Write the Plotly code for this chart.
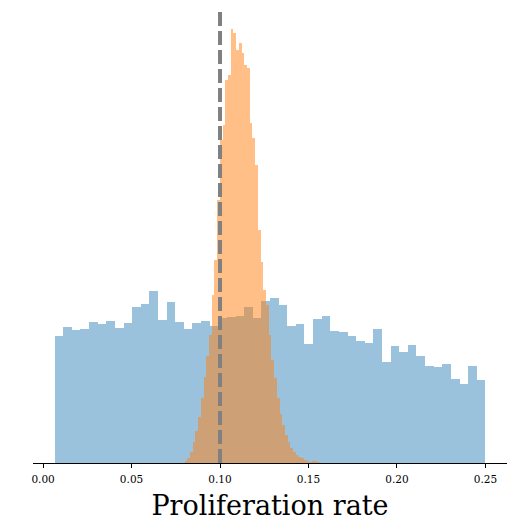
import plotly.graph_objects as go

# ---- data (heights in arbitrary units) ----
prior_start = 0.0065
prior_end = 0.25
prior_heights = [127.0, 135.7, 132.7, 134.0, 141.0, 139.4, 141.7, 134.7, 140.0, 155.7,
                 159.0, 172.0, 142.7, 160.7, 141.0, 133.7, 140.0, 141.7, 136.7, 144.7,
                 145.7, 146.7, 155.7, 144.7, 162.0, 164.7, 157.7, 136.7, 139.4, 118.7,
                 144.4, 146.7, 131.7, 130.7, 126.7, 121.7, 120.0, 134.0, 100.7, 117.4,
                 110.7, 118.0, 106.7, 96.7, 96.0, 99.4, 84.0, 79.4, 96.7, 82.7]

post_start = 0.0800
post_end = 0.1566
post_heights = [1.7, 4.7, 10.7, 20.7, 31.7, 45.7, 64.7, 85.7, 106.7, 127.7,
                167.7, 202.7, 262.7, 322.7, 337.7, 382.7, 387.7, 433.7, 430.0, 412.7,
                419.7, 409.7, 397.7, 394.7, 339.7, 324.7, 297.7, 232.7, 200.7, 172.7,
                157.7, 127.7, 102.7, 84.7, 64.7, 48.7, 37.7, 27.7, 20.7, 14.7,
                10.7, 8.2, 6.2, 4.7, 3.2, 1.7, 1.2, 1.7, 2.2, 1.2]

true_value = 0.1
tick_vals = [0.00, 0.05, 0.10, 0.15, 0.20, 0.25]
tick_text = ["0.00", "0.05", "0.10", "0.15", "0.20", "0.25"]
x_label = "Proliferation rate"


def bins(start, end, n):
    w = (end - start) / n
    return [start + w * (i + 0.5) for i in range(n)], w


px, pw = bins(prior_start, prior_end, len(prior_heights))
qx, qw = bins(post_start, post_end, len(post_heights))

fig = go.Figure()
fig.add_trace(go.Bar(x=px, y=prior_heights, width=pw,
                     marker=dict(color="rgba(31,119,180,0.45)", line=dict(width=0)),
                     showlegend=False))
fig.add_trace(go.Bar(x=qx, y=post_heights, width=qw,
                     marker=dict(color="rgba(255,127,14,0.5)", line=dict(width=0)),
                     showlegend=False))

fig.add_shape(type="line", x0=true_value, x1=true_value, xref="x",
              y0=0, y1=1, yref="paper",
              line=dict(color="rgb(128,128,128)", width=4, dash="14px,5px"))

# the page body has an 8px margin, so the figure is 8px smaller than the window
fig.update_layout(
    width=508, height=513,
    margin=dict(l=25, r=9, t=1.5, b=58),
    paper_bgcolor="white", plot_bgcolor="white",
    barmode="overlay", bargap=0,
    font=dict(family="DejaVu Serif", color="black"),
    xaxis=dict(range=[-0.0057, 0.2622], tickvals=tick_vals, ticktext=tick_text,
               ticks="outside", ticklen=4, tickwidth=1, tickcolor="black",
               showline=True, linecolor="black", linewidth=1.3,
               showgrid=False, zeroline=False,
               tickfont=dict(family="DejaVu Serif", size=10.5, color="black"),
               ticklabelstandoff=2,
               title=dict(text=x_label, font=dict(family="DejaVu Serif", size=27),
                          standoff=13)),
    yaxis=dict(visible=False, range=[0, 453], showgrid=False, zeroline=False),
)

fig.write_html("out.html")
